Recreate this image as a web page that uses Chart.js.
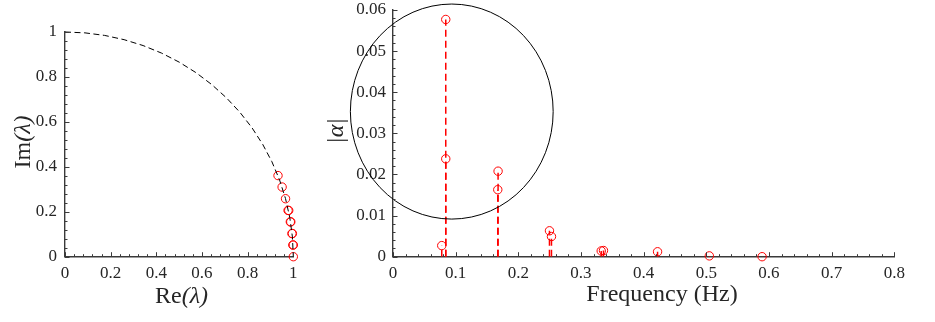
<!DOCTYPE html>
<html><head><meta charset="utf-8">
<script src="https://cdn.jsdelivr.net/npm/chart.js@4/dist/chart.umd.min.js"></script>
<style>
html,body{margin:0;padding:0;background:#fff;}
#wrap{position:relative;width:935px;height:322px;overflow:hidden;}
#c1{position:absolute;left:0;top:0;}
#c2{position:absolute;left:320px;top:0;}
</style></head><body>
<div id="wrap"><canvas id="c1" width="320" height="322"></canvas><canvas id="c2" width="615" height="322"></canvas></div>
<script>
// ---- data ----
// unit-circle reference arc (dashed), from (0,1) down to (1,0)
const arcRe = [0, 0.0872, 0.1736, 0.2588, 0.3420, 0.4226, 0.5, 0.5736, 0.6428, 0.7071, 0.7660, 0.8192, 0.8660, 0.9063, 0.9397, 0.9659, 0.9848, 0.9962, 1];
const arcIm = [1, 0.9962, 0.9848, 0.9659, 0.9397, 0.9063, 0.8660, 0.8192, 0.7660, 0.7071, 0.6428, 0.5736, 0.5, 0.4226, 0.3420, 0.2588, 0.1736, 0.0872, 0];
// eigenvalues (red circles)
const eigRe = [0.933, 0.951, 0.966, 0.977, 0.980, 0.987, 0.989, 0.994, 0.996, 0.998, 1.000, 1.000];
const eigIm = [0.361, 0.310, 0.258, 0.206, 0.206, 0.155, 0.155, 0.103, 0.103, 0.052, 0.052, 0.000];
// spectrum: frequency (Hz) and |alpha|
const freqHz   = [0.0842, 0.0842, 0.0778, 0.1677, 0.1672, 0.2497, 0.2529, 0.3323, 0.3359, 0.4222, 0.5048, 0.5890];
const ampAlpha = [0.0577, 0.0238, 0.0027, 0.0208, 0.0163, 0.0063, 0.0049, 0.0014, 0.0015, 0.0012, 0.0002, 0.0000];
// tick labels
const leftTickLabels = ['0', '0.2', '0.4', '0.6', '0.8', '1'];
const freqTickLabels = ['0', '0.1', '0.2', '0.3', '0.4', '0.5', '0.6', '0.7', '0.8'];
const ampTickLabels  = ['0', '0.01', '0.02', '0.03', '0.04', '0.05', '0.06'];
// highlighted region (ellipse) in data units: centre x, centre y, half-width, half-height
const highlight = [0.0938, 0.0353, 0.1618, 0.02615];

// ---- styles ----
const FONT = "'Liberation Serif', 'Times New Roman', serif";
const AXIS = '#3a3a3a';
const TXT = '#262626';
const RED = '#ff0000';

function labeler(labels, major) {
  return function (v) {
    const k = Math.round(v / major);
    return Math.abs(v - k * major) < 1e-9 && labels[k] !== undefined ? labels[k] : '';
  };
}

const inwardTicks = {
  id: 'inwardTicks',
  afterDraw(chart) {
    const ctx = chart.ctx, a = chart.chartArea;
    ctx.save();
    ctx.strokeStyle = AXIS; ctx.lineWidth = 1;
    ['x', 'y'].forEach(id => {
      const s = chart.scales[id];
      s.ticks.forEach(t => {
        const major = t.label !== '' && t.label !== undefined;
        const len = major ? 4.5 : 2.5;
        const p = Math.round(s.getPixelForValue(t.value)) + 0.5;
        ctx.beginPath();
        if (id === 'x') { ctx.moveTo(p, a.bottom); ctx.lineTo(p, a.bottom - len); }
        else { ctx.moveTo(a.left, p); ctx.lineTo(a.left + len, p); }
        ctx.stroke();
      });
    });
    ctx.restore();
  }
};

function drawMixed(ctx, parts, x, y, align) {
  let w = 0;
  parts.forEach(p => { ctx.font = p[1]; w += ctx.measureText(p[0]).width; });
  let cx = align === 'center' ? x - w / 2 : x;
  ctx.textAlign = 'left';
  parts.forEach(p => { ctx.font = p[1]; ctx.fillText(p[0], cx, y); cx += ctx.measureText(p[0]).width; });
}

function titlesPlugin(xParts, yParts, xPos, yPos) {
  return {
    id: 'titles',
    afterDraw(chart) {
      const ctx = chart.ctx;
      ctx.save();
      ctx.fillStyle = TXT;
      ctx.textBaseline = 'alphabetic';
      drawMixed(ctx, xParts, xPos[0], xPos[1], 'center');
      ctx.translate(yPos[0], yPos[1]);
      ctx.rotate(-Math.PI / 2);
      drawMixed(ctx, yParts, 0, 0, 'center');
      ctx.restore();
    }
  };
}

const ellipsePlugin = {
  id: 'ellipse',
  afterDatasetsDraw(chart) {
    const xs = chart.scales.x, ys = chart.scales.y, ctx = chart.ctx;
    const cx = xs.getPixelForValue(highlight[0]);
    const cy = ys.getPixelForValue(highlight[1]);
    const rx = Math.abs(xs.getPixelForValue(highlight[0] + highlight[2]) - cx);
    const ry = Math.abs(ys.getPixelForValue(highlight[1] + highlight[3]) - cy);
    ctx.save();
    ctx.strokeStyle = '#000'; ctx.lineWidth = 1;
    ctx.beginPath(); ctx.ellipse(cx, cy, rx, ry, 0, 0, Math.PI * 2); ctx.stroke();
    ctx.restore();
  }
};

function axisOpts(min, max, step, labels, major, pad, fit) {
  return {
    type: 'linear', min: min, max: max,
    grid: { display: true, drawOnChartArea: false, drawTicks: false },
    border: { display: true, color: AXIS, width: 1.4 },
    ticks: { stepSize: step, autoSkip: false, maxRotation: 0, padding: pad, color: TXT, font: { family: FONT, size: 17 },
             callback: labeler(labels, major) },
    afterFit: s => { fit(s); s.paddingTop = 0; s.paddingBottom = 0; s.paddingLeft = 0; s.paddingRight = 0; }
  };
}

const common = {
  responsive: false, animation: false, devicePixelRatio: 1,
  plugins: { legend: { display: false }, tooltip: { enabled: false } },
  elements: { line: { tension: 0 } }
};

// ---- left chart: eigenvalues on the unit circle ----
new Chart(document.getElementById('c1'), {
  type: 'scatter',
  data: {
    datasets: [
      { data: arcRe.map((v, i) => ({ x: v, y: arcIm[i] })), showLine: true, borderColor: '#000', borderWidth: 1,
        borderDash: [6, 3.5], pointRadius: 0, fill: false, clip: false },
      { data: eigRe.map((v, i) => ({ x: v, y: eigIm[i] })), showLine: false, pointRadius: 4.2, pointBorderWidth: 1,
        pointBorderColor: RED, pointBackgroundColor: 'rgba(0,0,0,0)', borderColor: RED, clip: false }
    ]
  },
  options: Object.assign({}, common, {
    layout: { padding: { top: 32, right: 26.7, left: 0, bottom: 0 } },
    scales: {
      x: axisOpts(0, 1, 0.04, leftTickLabels, 0.2, 7, s => { s.height = 65.3; }),
      y: axisOpts(0, 1, 0.04, leftTickLabels, 0.2, 8, s => { s.width = 65; })
    }
  }),
  plugins: [inwardTicks, titlesPlugin(
    [['Re', '24px ' + FONT], ['(λ)', 'italic 24px ' + FONT]],
    [['Im', '24px ' + FONT], ['(λ)', 'italic 24px ' + FONT]],
    [181.5, 303], [29.5, 142])]
});

// ---- right chart: stem plot of |alpha| vs frequency ----
const stemSets = freqHz.map((f, i) => ({
  data: [{ x: f, y: 0 }, { x: f, y: ampAlpha[i] }], showLine: true, borderColor: RED, borderWidth: 1.5,
  borderDash: [7, 4], pointRadius: 0, fill: false
}));
new Chart(document.getElementById('c2'), {
  type: 'scatter',
  data: {
    datasets: stemSets.concat([
      { data: freqHz.map((f, i) => ({ x: f, y: ampAlpha[i] })), showLine: false, pointRadius: 4.2, pointBorderWidth: 1,
        pointBorderColor: RED, pointBackgroundColor: 'rgba(0,0,0,0)', borderColor: RED, clip: false }
    ])
  },
  options: Object.assign({}, common, {
    layout: { padding: { top: 10, right: 40.7, left: 0, bottom: 0 } },
    scales: {
      x: axisOpts(0, 0.8, 0.02, freqTickLabels, 0.1, 7, s => { s.height = 65.3; }),
      y: axisOpts(0, 0.06, 0.002, ampTickLabels, 0.01, 7, s => { s.width = 73; })
    }
  }),
  plugins: [inwardTicks, ellipsePlugin, titlesPlugin(
    [['Frequency (Hz)', '24px ' + FONT]],
    [['|α|', 'italic 24px ' + FONT]],
    [342, 301], [23, 131])]
});
</script>
</body></html>
